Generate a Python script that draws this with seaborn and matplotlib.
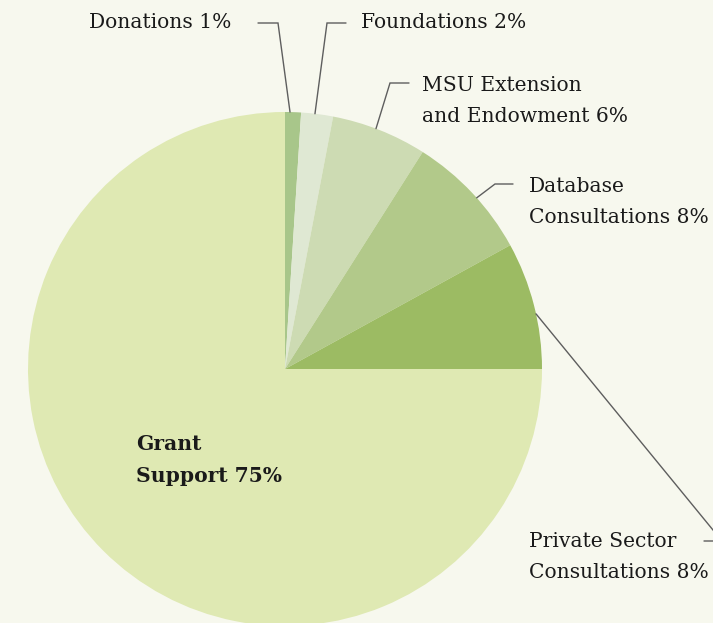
import numpy as np
import matplotlib
matplotlib.use("Agg")
import matplotlib.pyplot as plt
import seaborn as sns

# Data
categories = ["Donations", "Foundations", "MSU Extension and Endowment",
              "Database Consultations", "Private Sector Consultations", "Grant Support"]
values = [1, 2, 6, 8, 8, 75]
labels = ["Donations 1%", "Foundations 2%", "MSU Extension\nand Endowment 6%",
          "Database\nConsultations 8%", "Private Sector\nConsultations 8%", "Grant\nSupport 75%"]
colors = ["#a8c68a", "#dfe8d3", "#cddbb3", "#b2c98a", "#9cbb63", "#dfe9b3"]

BG = "#f7f8ee"
sns.set_theme(style="white", rc={"axes.facecolor": BG, "figure.facecolor": BG})
plt.rcParams["font.family"] = ["DejaVu Serif"]

W, H = 713, 623
fig = plt.figure(figsize=(W / 100, H / 100), dpi=100)
ax = fig.add_axes([0, 0, 1, 1])

cx, cy, r = 285, H - 369, 257
wedges, _ = ax.pie(values, colors=colors, startangle=90, counterclock=False,
                   center=(cx, cy), radius=r, frame=True,
                   wedgeprops=dict(linewidth=0))
ax.set_xlim(0, W)
ax.set_ylim(0, H)
ax.set_aspect("equal")
ax.axis("off")

# leader line layout: (fraction along wedge, elbow x, elbow y, end x, text x, text y, ha)
layout = [
    (0.31, 278, 23, 258, 231, 23, "right"),
    (0.43, 327, 23, 346, 361, 23, "left"),
    (0.46, 390, 83, 409, 422, 101, "left"),
    (0.55, 495, 184, 513, 529, 202, "left"),
    (0.57, 722, 541, 704, 529, 557, "left"),
]
fs = 14.6
ls = 1.78
for w, lab, (frac, ex, ey, hx, tx, ty, ha) in zip(wedges[:5], labels[:5], layout):
    # counterclock=False: theta2 is the start (upper) edge, theta1 the end edge
    ang = np.deg2rad(w.theta2 - frac * (w.theta2 - w.theta1))
    px, py = cx + r * np.cos(ang), cy + r * np.sin(ang)
    ax.plot([px, ex, hx], [py, H - ey, H - ey], color="#5e5e5e", lw=1.0,
            solid_joinstyle="miter", clip_on=False)
    ax.text(tx, H - ty, lab, ha=ha, va="center", fontsize=fs, color="#1a1a1a",
            linespacing=ls)

ax.text(136, H - 460, labels[5], ha="left", va="center", fontsize=fs,
        fontweight="bold", color="#1a1a1a", linespacing=ls)

fig.savefig("out.png", dpi=100, facecolor=BG)
